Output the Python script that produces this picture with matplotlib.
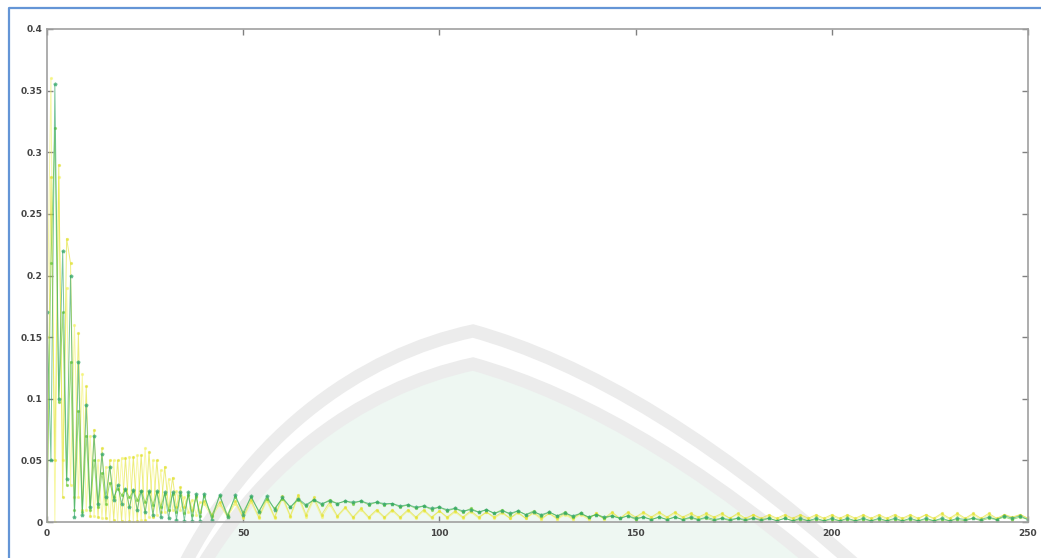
import numpy as np
import matplotlib
matplotlib.use("Agg")
import matplotlib.pyplot as plt
from matplotlib.path import Path
from matplotlib.patches import PathPatch
from matplotlib.lines import Line2D

# sample positions: every unit for the first 40, then every 2 units
x_fine = list(range(0, 40))
x_coarse = list(range(40, 251, 2))
x_all = x_fine + x_coarse

# teal green series
green_a_head = [0.17, 0.05, 0.355, 0.10, 0.22, 0.035, 0.20, 0.004, 0.13, 0.006,
                0.095, 0.012, 0.07, 0.015, 0.055, 0.02, 0.045, 0.018, 0.03, 0.015,
                0.027, 0.012, 0.026, 0.01, 0.025, 0.008, 0.025, 0.006, 0.025, 0.004,
                0.024, 0.003, 0.024, 0.002, 0.024, 0.001, 0.024, 0.001, 0.023, 0.001]
green_a_tail = [0.023, 0.002, 0.022, 0.004, 0.022, 0.006, 0.021, 0.008, 0.021, 0.010,
                0.020, 0.012, 0.019, 0.014, 0.018, 0.015, 0.017, 0.015, 0.017, 0.016,
                0.017, 0.015, 0.016, 0.015, 0.015, 0.013, 0.014, 0.012, 0.013, 0.011,
                0.012, 0.010, 0.011, 0.009, 0.010, 0.008, 0.010, 0.007, 0.009, 0.007,
                0.009, 0.006, 0.008, 0.006, 0.008, 0.005, 0.007, 0.005, 0.007, 0.004,
                0.006, 0.004, 0.005, 0.003, 0.005, 0.003, 0.004, 0.002, 0.004, 0.002,
                0.004, 0.002, 0.004, 0.002, 0.004, 0.002, 0.003, 0.002, 0.003, 0.002,
                0.003, 0.002, 0.003, 0.001, 0.003, 0.001, 0.003, 0.001, 0.003, 0.001,
                0.003, 0.001, 0.003, 0.001, 0.003, 0.001, 0.003, 0.001, 0.003, 0.001,
                0.003, 0.001, 0.003, 0.001, 0.003, 0.001, 0.003, 0.002, 0.003, 0.002,
                0.004, 0.002, 0.005, 0.003, 0.005, 0.002]

# bright green series
green_b_head = [0.0, 0.21, 0.32, 0.097, 0.17, 0.03, 0.13, 0.01, 0.09, 0.008,
                0.07, 0.01, 0.05, 0.012, 0.04, 0.015, 0.032, 0.02, 0.027, 0.022,
                0.026, 0.02, 0.025, 0.018, 0.025, 0.016, 0.024, 0.014, 0.024, 0.012,
                0.023, 0.01, 0.023, 0.008, 0.022, 0.007, 0.022, 0.006, 0.021, 0.005]
green_b_tail = [0.021, 0.005, 0.021, 0.006, 0.020, 0.008, 0.020, 0.009, 0.019, 0.011,
                0.019, 0.012, 0.018, 0.013, 0.018, 0.014, 0.018, 0.015, 0.017, 0.015,
                0.017, 0.014, 0.016, 0.014, 0.015, 0.012, 0.014, 0.011, 0.013, 0.010,
                0.012, 0.009, 0.011, 0.008, 0.011, 0.008, 0.010, 0.007, 0.010, 0.006,
                0.009, 0.006, 0.009, 0.005, 0.008, 0.005, 0.008, 0.004, 0.007, 0.004,
                0.006, 0.003, 0.005, 0.003, 0.005, 0.002, 0.004, 0.002, 0.004, 0.002,
                0.004, 0.002, 0.003, 0.002, 0.003, 0.001, 0.003, 0.001, 0.003, 0.001,
                0.003, 0.001, 0.003, 0.001, 0.003, 0.001, 0.002, 0.001, 0.002, 0.001,
                0.002, 0.001, 0.002, 0.001, 0.002, 0.001, 0.002, 0.001, 0.002, 0.001,
                0.002, 0.001, 0.002, 0.001, 0.002, 0.001, 0.002, 0.001, 0.003, 0.001,
                0.003, 0.002, 0.004, 0.002, 0.004, 0.002]

# yellow series
yellow_c_head = [0.0, 0.28, 0.05, 0.29, 0.02, 0.23, 0.21, 0.02, 0.153, 0.01,
                 0.11, 0.005, 0.075, 0.004, 0.06, 0.003, 0.05, 0.002, 0.05, 0.001,
                 0.052, 0.001, 0.053, 0.001, 0.054, 0.002, 0.057, 0.004, 0.05, 0.008,
                 0.045, 0.01, 0.036, 0.012, 0.028, 0.012, 0.022, 0.01, 0.02, 0.008]
yellow_c_tail = [0.017, 0.006, 0.016, 0.005, 0.017, 0.004, 0.018, 0.004, 0.019, 0.004,
                 0.021, 0.005, 0.022, 0.006, 0.020, 0.006, 0.016, 0.005, 0.012, 0.004,
                 0.011, 0.004, 0.010, 0.004, 0.010, 0.004, 0.010, 0.004, 0.010, 0.004,
                 0.009, 0.004, 0.009, 0.004, 0.009, 0.004, 0.008, 0.004, 0.008, 0.003,
                 0.008, 0.003, 0.008, 0.003, 0.007, 0.003, 0.007, 0.003, 0.007, 0.003,
                 0.007, 0.003, 0.008, 0.003, 0.008, 0.004, 0.008, 0.004, 0.008, 0.004,
                 0.008, 0.004, 0.007, 0.004, 0.007, 0.004, 0.007, 0.003, 0.007, 0.003,
                 0.006, 0.003, 0.006, 0.003, 0.006, 0.003, 0.006, 0.003, 0.006, 0.003,
                 0.006, 0.003, 0.006, 0.003, 0.006, 0.003, 0.006, 0.003, 0.006, 0.003,
                 0.006, 0.003, 0.006, 0.003, 0.007, 0.003, 0.007, 0.003, 0.007, 0.003,
                 0.007, 0.003, 0.006, 0.004, 0.006, 0.003]

# pale yellow series
yellow_d_head = [0.15, 0.36, 0.0, 0.28, 0.05, 0.19, 0.03, 0.16, 0.02, 0.12,
                 0.01, 0.07, 0.005, 0.05, 0.003, 0.045, 0.0, 0.05, 0.0, 0.052,
                 0.0, 0.053, 0.0, 0.054, 0.002, 0.06, 0.004, 0.05, 0.006, 0.042,
                 0.008, 0.035, 0.01, 0.025, 0.01, 0.02, 0.008, 0.018, 0.006, 0.016]
yellow_d_tail = [0.015, 0.004, 0.014, 0.004, 0.015, 0.003, 0.016, 0.003, 0.017, 0.003,
                 0.019, 0.004, 0.020, 0.004, 0.018, 0.004, 0.014, 0.004, 0.011, 0.003,
                 0.010, 0.003, 0.009, 0.003, 0.009, 0.003, 0.009, 0.003, 0.009, 0.003,
                 0.009, 0.003, 0.008, 0.003, 0.008, 0.003, 0.008, 0.003, 0.007, 0.003,
                 0.007, 0.003, 0.007, 0.002, 0.007, 0.002, 0.006, 0.002, 0.006, 0.002,
                 0.007, 0.002, 0.007, 0.003, 0.007, 0.003, 0.007, 0.003, 0.007, 0.003,
                 0.007, 0.003, 0.006, 0.003, 0.006, 0.003, 0.006, 0.003, 0.006, 0.002,
                 0.006, 0.002, 0.005, 0.002, 0.005, 0.002, 0.005, 0.002, 0.005, 0.002,
                 0.005, 0.002, 0.005, 0.002, 0.005, 0.002, 0.005, 0.002, 0.005, 0.002,
                 0.005, 0.002, 0.006, 0.002, 0.006, 0.002, 0.006, 0.002, 0.006, 0.002,
                 0.006, 0.002, 0.006, 0.003, 0.006, 0.003]

x_ticks = [0, 50, 100, 150, 200, 250]
y_ticks = [0, 0.05, 0.1, 0.15, 0.2, 0.25, 0.3, 0.35, 0.4]
y_tick_labels = ["0", "0.05", "0.1", "0.15", "0.2", "0.25", "0.3", "0.35", "0.4"]

W, H = 1041, 558
fig = plt.figure(figsize=(W / 100, H / 100), dpi=100, facecolor="white")

# background layer in pixel coords: faint scan watermark + blue page frame
bg = fig.add_axes([0, 0, 1, 1], zorder=-1)
bg.set_xlim(0, W)
bg.set_ylim(H, 0)
bg.axis("off")


def roof(dy, closed=False):
    verts = [(165, 600 + dy), (238, 428 + dy), (365, 348 + dy), (473, 325 + dy),
             (580, 355 + dy), (720, 430 + dy), (900, 600 + dy)]
    codes = [Path.MOVETO] + [Path.CURVE4] * 6
    if closed:
        verts = verts + [(165, 600 + dy)]
        codes = codes + [Path.CLOSEPOLY]
    return Path(verts, codes)


bg.add_patch(PathPatch(roof(40, closed=True), facecolor="#eef7f2", edgecolor="none"))
bg.add_patch(PathPatch(roof(6), facecolor="none", edgecolor="#ececec", lw=9.5))
bg.add_patch(PathPatch(roof(39), facecolor="none", edgecolor="#ececec", lw=9.5))
bg.add_line(Line2D([9, 9, W], [H, 8, 8], color="#6495d6", lw=1.6))

# main axes, MATLAB-like box
ax = fig.add_axes([47 / W, 1 - 522 / H, (1028 - 47) / W, (522 - 29) / H])
ax.set_facecolor("none")

series = [
    (green_a_head + green_a_tail, "#34a86a", "*"),
    (green_b_head + green_b_tail, "#70cc3c", "."),
    (yellow_c_head + yellow_c_tail, "#e2e236", "."),
    (yellow_d_head + yellow_d_tail, "#f4f474", "."),
]
for vals, col, mk in series[::-1]:
    ax.plot(x_all, vals, color=col, lw=0.7, marker=mk, ms=2.6, alpha=0.65)

ax.set_xlim(0, 250)
ax.set_ylim(0, 0.4)
ax.set_xticks(x_ticks)
ax.set_yticks(y_ticks)
ax.set_yticklabels(y_tick_labels)
for s in ax.spines.values():
    s.set_color("#a0a0a0")
    s.set_linewidth(1.2)
ax.tick_params(direction="in", length=4, width=1, color="#808080",
               top=True, right=True, labelsize=6.5, labelcolor="#444444")
ax.tick_params(axis="y", pad=3)
ax.tick_params(axis="x", pad=5)
for lab in ax.get_xticklabels() + ax.get_yticklabels():
    lab.set_fontweight("bold")

fig.savefig("out.png", dpi=100)
